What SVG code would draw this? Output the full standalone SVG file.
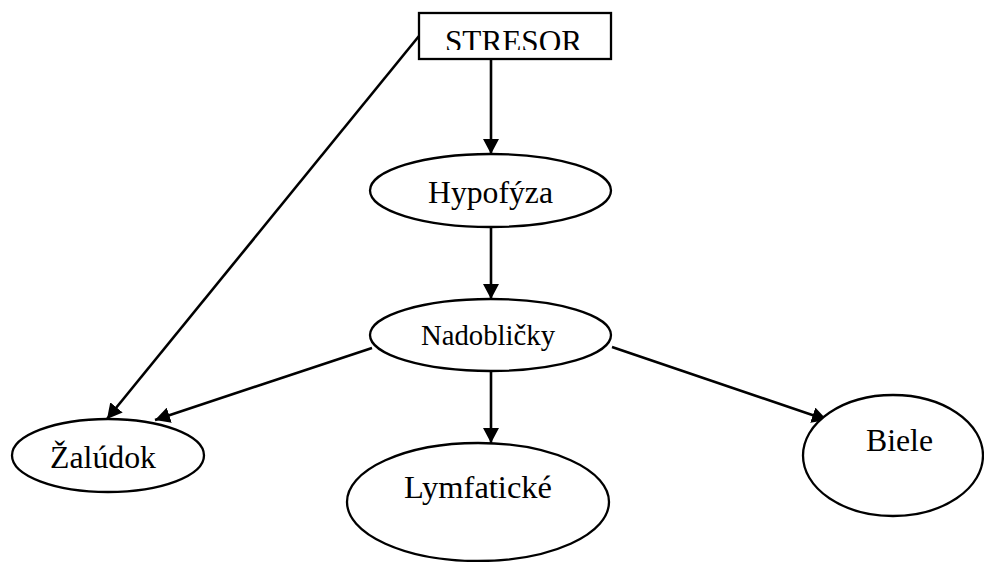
<svg xmlns="http://www.w3.org/2000/svg" width="984" height="562" viewBox="0 0 984 562">
<defs>
<style>
.n{fill:#fff;stroke:#000;stroke-width:2.3}
.t{font-family:"Liberation Serif","Times New Roman",serif;font-size:32px;fill:#000;text-anchor:middle}
.c{stroke:#000;stroke-width:2.6;fill:none;marker-end:url(#ah)}
</style>
<marker id="ah" markerUnits="userSpaceOnUse" markerWidth="15" markerHeight="16" refX="15" refY="8" orient="auto" viewBox="0 0 15 16">
<path d="M0,0 L15,8 L0,16 z" fill="#000"/>
</marker>
<clipPath id="boxclip"><rect x="419" y="13" width="192" height="37"/></clipPath>
</defs>
<rect width="984" height="562" fill="#fff"/>
<g id="connectors">
<line class="c" x1="491" y1="60" x2="491" y2="154"/>
<line class="c" x1="491" y1="227" x2="491" y2="299"/>
<line class="c" x1="491" y1="371" x2="491" y2="443"/>
<line class="c" x1="419" y1="36" x2="107" y2="419"/>
<line class="c" x1="372" y1="348" x2="155" y2="420"/>
<line class="c" x1="612" y1="347" x2="827" y2="420"/>
</g>
<g id="stresor">
<rect class="n" x="419" y="13" width="192" height="46"/>
<text class="t" x="513.5" y="52" clip-path="url(#boxclip)" textLength="137" lengthAdjust="spacingAndGlyphs">STRESOR</text>
</g>
<g id="hypofyza">
<ellipse class="n" cx="490.5" cy="190.5" rx="120.5" ry="36.5"/>
<text class="t" x="490.5" y="203" textLength="125" lengthAdjust="spacingAndGlyphs">Hypofýza</text>
</g>
<g id="nadoblicky">
<ellipse class="n" cx="490.5" cy="335" rx="120.5" ry="36"/>
<text class="t" x="488" y="345" style="font-size:28.5px" textLength="134" lengthAdjust="spacingAndGlyphs">Nadobličky</text>
</g>
<g id="zaludok">
<ellipse class="n" cx="108" cy="455.5" rx="96" ry="36.5"/>
<text class="t" x="103" y="468" textLength="106" lengthAdjust="spacingAndGlyphs">Žalúdok</text>
</g>
<g id="lymfaticke">
<ellipse class="n" cx="478" cy="502" rx="131" ry="59"/>
<text class="t" x="478" y="498" textLength="148" lengthAdjust="spacingAndGlyphs">Lymfatické</text>
</g>
<g id="biele">
<ellipse class="n" cx="893" cy="455.5" rx="90" ry="60.5"/>
<text class="t" x="899.5" y="451" textLength="67" lengthAdjust="spacingAndGlyphs">Biele</text>
</g>
</svg>
